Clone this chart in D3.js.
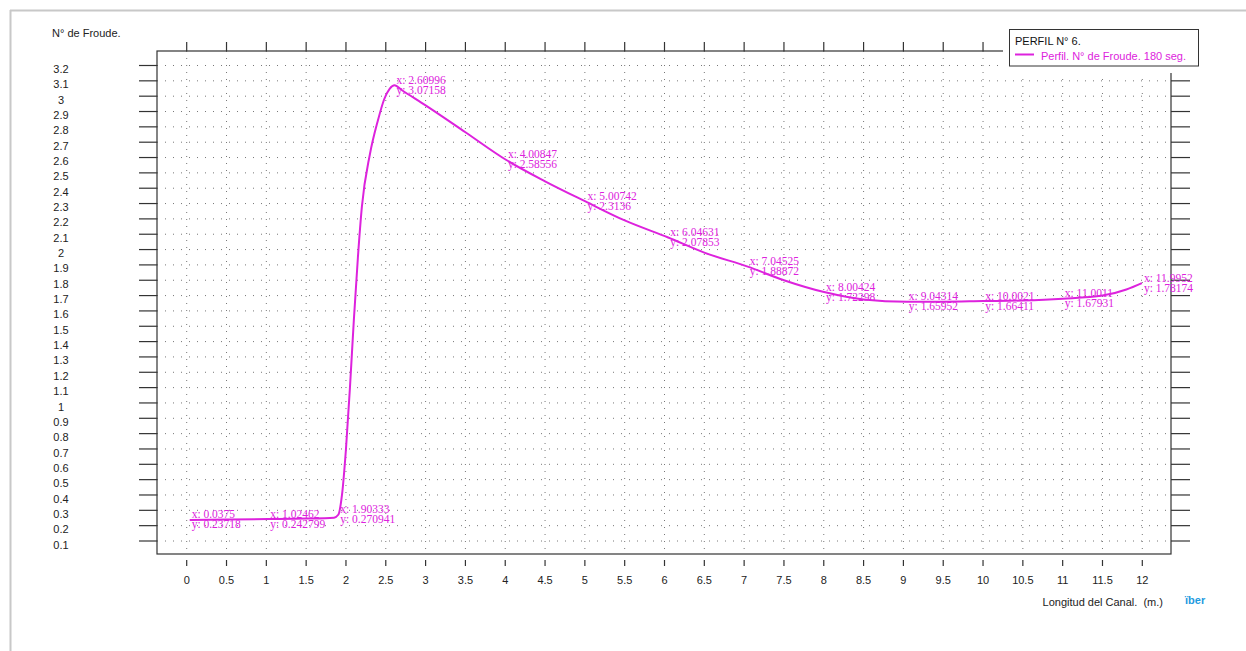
<!DOCTYPE html>
<html><head><meta charset="utf-8">
<script src="https://cdn.jsdelivr.net/npm/d3@7/dist/d3.min.js"></script>
<style>html,body{margin:0;padding:0;background:#fff;}svg{display:block;}text{white-space:pre;}</style>
</head><body>
<script>
// ---- data ----
const xs = [0.0375, 0.5, 1.02462, 1.5, 1.85, 1.90333, 1.95, 2.0, 2.05, 2.1, 2.15, 2.2, 2.3, 2.4, 2.48, 2.55, 2.60996, 2.7, 3.0, 3.5, 4.00847, 4.5, 5.00742, 5.5, 6.04631, 6.5, 7.04525, 7.5, 8.00424, 8.5, 9.04314, 9.5, 10.0021, 10.5, 11.0011, 11.5, 11.8, 11.9952];
const ys = [0.23718, 0.2405, 0.242799, 0.246, 0.252, 0.270941, 0.40, 0.70, 1.10, 1.55, 1.95, 2.28, 2.62, 2.84, 2.98, 3.05, 3.07158, 3.04, 2.94, 2.765, 2.58556, 2.445, 2.3136, 2.19, 2.07853, 1.98, 1.88872, 1.80, 1.72298, 1.675, 1.65952, 1.66, 1.66411, 1.668, 1.67931, 1.70, 1.74, 1.78174];
const annX = [0.0375, 1.02462, 1.90333, 2.60996, 4.00847, 5.00742, 6.04631, 7.04525, 8.00424, 9.04314, 10.0021, 11.0011, 11.9952];
const annY = [0.23718, 0.242799, 0.270941, 3.07158, 2.58556, 2.3136, 2.07853, 1.88872, 1.72298, 1.65952, 1.66411, 1.67931, 1.78174];
const annXLabel = ["0.0375","1.02462","1.90333","2.60996","4.00847","5.00742","6.04631","7.04525","8.00424","9.04314","10.0021","11.0011","11.9952"];
const annYLabel = ["0.23718","0.242799","0.270941","3.07158","2.58556","2.3136","2.07853","1.88872","1.72298","1.65952","1.66411","1.67931","1.78174"];
const xTicks = d3.range(0, 12.01, 0.5);
const yTicks = d3.range(1, 33).map(i => i / 10);
const xTickLabels = xTicks.map(v => d3.format("~g")(v));
const yTickLabels = yTicks.map(v => d3.format("~g")(+v.toFixed(1)));
const yTitle = "N° de Froude.";
const xTitle = "Longitud del Canal.  (m.)";
const legendTitle = "PERFIL N° 6.";
const seriesName = "Perfil. N° de Froude. 180 seg.";

// ---- layout ----
const W = 1246, H = 651;
const MAG = "#dd22dd";
const frame = {l: 157, r: 1171, t: 51, b: 554};
const x = d3.scaleLinear().domain([0, 12]).range([186.7, 1142.3]);
const y = d3.scaleLinear().domain([0.1, 3.2]).range([541, 65.5]);

const svg = d3.select("body").append("svg").attr("width", W).attr("height", H);

// outer page border
svg.append("line").attr("x1", 10).attr("x2", W).attr("y1", 10.5).attr("y2", 10.5).attr("stroke", "#c8c8c8").attr("stroke-width", 2);
svg.append("line").attr("x1", 10.5).attr("x2", 10.5).attr("y1", 10).attr("y2", H).attr("stroke", "#c8c8c8").attr("stroke-width", 2);

// grid (dotted)
const g = svg.append("g");
g.selectAll("line.hg").data(yTicks).join("line").attr("class", "hg")
  .attr("x1", frame.l).attr("x2", frame.r).attr("y1", d => y(d)).attr("y2", d => y(d))
  .attr("stroke", "#777").attr("stroke-width", 1).attr("stroke-dasharray", "1,7");
g.selectAll("line.vg").data(xTicks).join("line").attr("class", "vg")
  .attr("x1", d => x(d)).attr("x2", d => x(d)).attr("y1", frame.t).attr("y2", frame.b)
  .attr("stroke", "#777").attr("stroke-width", 1).attr("stroke-dasharray", "1,6");

// frame
svg.append("rect").attr("x", frame.l).attr("y", frame.t).attr("width", frame.r - frame.l).attr("height", frame.b - frame.t)
  .attr("fill", "none").attr("stroke", "#333").attr("stroke-width", 1.2);

// ticks
const tk = svg.append("g").attr("stroke", "#333").attr("stroke-width", 1.2);
tk.selectAll("line.lt").data(yTicks).join("line").attr("x1", 139).attr("x2", frame.l).attr("y1", d => y(d)).attr("y2", d => y(d));
tk.selectAll("line.rt").data(yTicks).join("line").attr("x1", frame.r).attr("x2", 1190).attr("y1", d => y(d)).attr("y2", d => y(d));
tk.selectAll("line.tt").data(xTicks).join("line").attr("x1", d => x(d)).attr("x2", d => x(d)).attr("y1", 42).attr("y2", frame.t);
tk.selectAll("line.bt").data(xTicks).join("line").attr("x1", d => x(d)).attr("x2", d => x(d)).attr("y1", 560).attr("y2", 566);

// tick labels
const font = "Liberation Sans, Arial, sans-serif";
svg.append("g").selectAll("text").data(yTicks).join("text")
  .attr("x", 61).attr("y", d => y(d) + 3.7).attr("dy", "0.35em").attr("text-anchor", "middle")
  .attr("font-family", font).attr("font-size", 11).attr("fill", "#222").text((d, i) => yTickLabels[i]);
svg.append("g").selectAll("text").data(xTicks).join("text")
  .attr("x", d => x(d)).attr("y", 580).attr("dy", "0.35em").attr("text-anchor", "middle")
  .attr("font-family", font).attr("font-size", 11).attr("fill", "#222").text((d, i) => xTickLabels[i]);

// axis titles
svg.append("text").attr("x", 52).attr("y", 33).attr("dy", "0.35em").attr("font-family", font).attr("font-size", 11).attr("fill", "#222").text(yTitle);
svg.append("text").attr("x", 1163).attr("y", 602).attr("dy", "0.35em").attr("text-anchor", "end").attr("font-family", font).attr("font-size", 11).attr("fill", "#222").text(xTitle);

// curve
const pts = xs.map((v, i) => [v, ys[i]]);
const line = d3.line().x(d => x(d[0])).y(d => y(d[1])).curve(d3.curveMonotoneX);
svg.append("path").datum(pts).attr("d", line).attr("fill", "none").attr("stroke", MAG).attr("stroke-width", 2);

// annotations
const serif = "Liberation Serif, Times New Roman, serif";
const ann = svg.append("g").attr("font-family", serif).attr("font-size", 11.5).attr("fill", MAG);
annX.forEach((v, i) => {
  const px = x(v), py = y(annY[i]);
  ann.append("text").attr("x", px + 2).attr("y", py - 1.5).text("x: " + annXLabel[i]);
  ann.append("text").attr("x", px + 2).attr("y", py + 8.5).text("y: " + annYLabel[i]);
});

// legend
const lg = svg.append("g");
lg.append("rect").attr("x", 1003).attr("y", 25).attr("width", 205).attr("height", 48).attr("fill", "#fff");
lg.append("rect").attr("x", 1009.5).attr("y", 29.5).attr("width", 189).attr("height", 36.5).attr("fill", "#fff").attr("stroke", "#333").attr("stroke-width", 1);
lg.append("text").attr("x", 1015).attr("y", 41).attr("dy", "0.35em").attr("font-family", font).attr("font-size", 11).attr("fill", "#111").text(legendTitle);
lg.append("line").attr("x1", 1015).attr("x2", 1034).attr("y1", 54.5).attr("y2", 54.5).attr("stroke", MAG).attr("stroke-width", 2);
lg.append("text").attr("x", 1041).attr("y", 56).attr("dy", "0.35em").attr("font-family", font).attr("font-size", 11).attr("fill", MAG).text(seriesName);

// logo
svg.append("text").attr("x", 1185).attr("y", 600).attr("dy", "0.35em").attr("font-family", font).attr("font-size", 11).attr("font-weight", "bold").attr("fill", "#1e9be0").text("ïber");
</script>
</body></html>
